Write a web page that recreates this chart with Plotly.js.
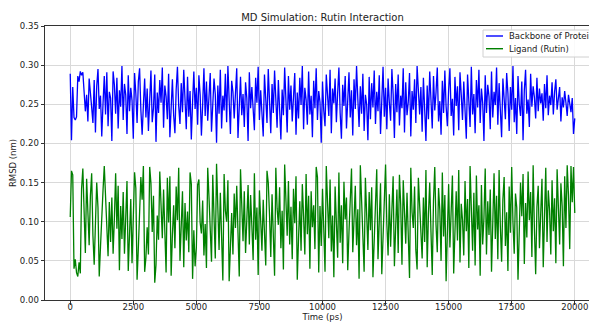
<!DOCTYPE html>
<html>
<head>
<meta charset="utf-8">
<script src="https://cdn.plot.ly/plotly-3.0.1.min.js"></script>
<style>
html,body{margin:0;padding:0;overflow:hidden;background:#fff;}
#chart{width:600px;height:325px;}
</style>
</head>
<body>
<div id="chart"></div>
<script>
// Time axis: 0..20000 ps, one sample every 50 ps
const timeStart = 0;
const timeStep = 50;

const backboneRmsd = [
.289,.204,.272,.233,.230,.234,.286,.279,.292,.287,.291,.268,.241,.262,.228,.283,.257,.246,.226,.281,
.214,.273,.295,.244,.261,.209,.251,.286,.237,.291,.222,.266,.258,.203,.292,.275,.238,.284,.219,.268,
.247,.299,.230,.276,.262,.212,.287,.241,.271,.255,.206,.290,.264,.226,.279,.296,.243,.211,.249,.283,
.233,.270,.216,.258,.293,.227,.245,.288,.202,.265,.239,.281,.252,.297,.220,.274,.260,.231,.289,.208,
.256,.282,.236,.213,.269,.298,.248,.225,.277,.240,.294,.259,.218,.285,.234,.267,.205,.253,.292,.244,
.271,.224,.287,.262,.210,.250,.296,.235,.279,.229,.257,.290,.215,.246,.283,.263,.201,.274,.238,.294,
.219,.261,.242,.289,.227,.299,.254,.212,.280,.266,.232,.273,.296,.207,.249,.285,.236,.263,.221,.278,
.258,.203,.291,.245,.272,.234,.217,.284,.252,.298,.230,.268,.241,.209,.288,.260,.226,.295,.250,.213,
.276,.239,.293,.262,.220,.281,.247,.205,.269,.236,.297,.255,.214,.286,.243,.274,.228,.259,.290,.211,
.265,.232,.284,.249,.299,.218,.271,.256,.224,.292,.237,.261,.208,.280,.245,.296,.230,.267,.253,.201,
.279,.242,.222,.288,.260,.235,.294,.213,.270,.251,.283,.227,.264,.297,.239,.206,.275,.248,.286,.219,
.255,.291,.233,.268,.210,.282,.244,.299,.257,.221,.273,.238,.289,.216,.262,.250,.204,.285,.231,.277,
.246,.293,.225,.266,.241,.287,.212,.259,.298,.234,.271,.218,.283,.252,.229,.295,.263,.207,.276,.240,
.288,.223,.261,.245,.296,.214,.278,.236,.253,.290,.209,.267,.243,.282,.226,.299,.258,.237,.272,.215,
.284,.250,.203,.274,.231,.292,.260,.219,.286,.242,.265,.297,.228,.254,.211,.280,.239,.293,.247,.222,
.269,.296,.235,.257,.210,.285,.248,.273,.217,.291,.262,.230,.279,.244,.206,.288,.255,.221,.298,.237,
.263,.213,.281,.246,.294,.226,.270,.252,.203,.287,.239,.275,.260,.218,.292,.233,.266,.249,.297,.224,
.277,.240,.208,.283,.256,.231,.290,.264,.216,.272,.243,.299,.227,.258,.212,.286,.250,.235,.279,.204,
.268,.294,.238,.256,.221,.289,.247,.273,.259,.232,.284,.241,.270,.251,.264,.229,.276,.245,.287,.236,
.261,.249,.278,.237,.266,.282,.243,.255,.272,.228,.259,.246,.267,.252,.235,.262,.248,.240,.258,.212,
.232
];

const ligandRmsd = [
.106,.165,.160,.040,.052,.035,.030,.048,.034,.142,.168,.095,.060,.155,.120,.070,.133,.162,.082,.045,
.098,.150,.118,.030,.068,.112,.140,.171,.126,.088,.056,.125,.074,.131,.059,.104,.162,.091,.146,.038,
.120,.078,.138,.059,.101,.152,.037,.084,.129,.047,.115,.163,.143,.026,.066,.110,.157,.128,.171,.036,
.054,.093,.058,.170,.149,.087,.133,.022,.045,.108,.077,.164,.116,.079,.141,.073,.035,.156,.099,.158,
.031,.083,.121,.066,.145,.102,.169,.050,.094,.139,.042,.124,.076,.113,.061,.163,.148,.027,.089,.043,
.067,.147,.154,.099,.085,.127,.057,.097,.041,.169,.132,.090,.049,.160,.106,.053,.174,.119,.064,.137,
.081,.025,.161,.114,.100,.153,.024,.070,.111,.058,.136,.092,.146,.086,.030,.167,.122,.075,.139,.060,
.103,.147,.071,.134,.095,.051,.162,.077,.118,.032,.140,.105,.063,.128,.080,.044,.165,.150,.109,.055,
.135,.088,.031,.169,.117,.096,.144,.066,.114,.039,.173,.128,.082,.152,.071,.119,.052,.142,.098,.158,
.026,.078,.126,.063,.148,.107,.058,.161,.084,.133,.040,.139,.093,.121,.065,.170,.157,.035,.120,.069,
.142,.091,.036,.171,.125,.079,.154,.062,.108,.029,.145,.099,.054,.163,.073,.121,.047,.151,.103,.131,
.038,.087,.134,.168,.061,.094,.146,.070,.116,.027,.172,.127,.083,.036,.156,.110,.064,.138,.089,.144,
.029,.076,.124,.167,.052,.101,.149,.033,.081,.130,.173,.098,.057,.135,.068,.115,.158,.043,.097,.141,
.060,.160,.122,.045,.153,.104,.072,.137,.085,.028,.169,.112,.092,.145,.064,.039,.156,.118,.100,.053,
.131,.074,.166,.042,.110,.150,.087,.032,.127,.170,.096,.061,.143,.115,.050,.163,.081,.134,.024,.106,
.148,.067,.117,.159,.034,.093,.139,.076,.166,.048,.123,.102,.057,.152,.088,.129,.041,.171,.109,.063,
.137,.044,.159,.090,.121,.031,.147,.071,.105,.168,.058,.126,.083,.141,.036,.113,.162,.078,.133,.052,
.166,.094,.049,.128,.157,.069,.112,.037,.145,.086,.170,.099,.059,.136,.118,.026,.084,.150,.107,.161,
.046,.124,.080,.164,.102,.138,.055,.172,.091,.033,.119,.146,.066,.127,.155,.042,.097,.169,.074,.140,
.115,.058,.153,.088,.130,.047,.167,.103,.071,.149,.120,.043,.158,.092,.172,.134,.065,.171,.125,.170,
.111
];

const seriesNames = ["Backbone of Protein", "Ligand (Rutin)"];
const seriesColors = ["#0000ff", "#008000"];

const timePs = backboneRmsd.map((_, i) => timeStart + i * timeStep);

const font = "DejaVu Sans, Liberation Sans, sans-serif";

// plot-area geometry (pixels) used to place the legend box
const plotL = 45, plotW = 555, plotT = 26, plotH = 274;
const px = v => (v - plotL) / plotW;
const py = v => (plotT + plotH - v) / plotH;

const traces = [
  {x: timePs, y: backboneRmsd, name: seriesNames[0], type: "scatter", mode: "lines",
   line: {color: seriesColors[0], width: 1.3}},
  {x: timePs, y: ligandRmsd, name: seriesNames[1], type: "scatter", mode: "lines",
   line: {color: seriesColors[1], width: 1.3}}
];

const legendRows = [36, 48.7];

const shapes = [
  {type: "rect", xref: "paper", yref: "paper", x0: px(483), x1: px(640), y0: py(57), y1: py(30),
   line: {color: "#d0d0d0", width: 1}, fillcolor: "rgba(255,255,255,0.85)", layer: "above"}
];
const annotations = [];
seriesNames.forEach((name, i) => {
  shapes.push({type: "line", xref: "paper", yref: "paper", x0: px(486), x1: px(503),
               y0: py(legendRows[i]), y1: py(legendRows[i]),
               line: {color: seriesColors[i], width: 1.4}, layer: "above"});
  annotations.push({xref: "paper", yref: "paper", x: px(507), y: py(legendRows[i]),
                    xanchor: "left", yanchor: "middle", text: name, showarrow: false,
                    font: {family: font, size: 8.5, color: "#222"}});
});

const layout = {
  width: 600, height: 325,
  margin: {l: plotL, r: 0, t: plotT, b: 25, autoexpand: false},
  paper_bgcolor: "#ffffff", plot_bgcolor: "#ffffff",
  font: {family: font, size: 9, color: "#222"},
  title: {text: "MD Simulation: Rutin Interaction", font: {family: font, size: 10, color: "#222"},
          x: 0.5, xref: "paper", y: 1 - 17/325, yref: "container", yanchor: "middle"},
  xaxis: {
    range: [-1000, 21000], dtick: 2500, tick0: 0, tickformat: "d",
    showgrid: true, gridcolor: "#d9d9d9", gridwidth: 1, zeroline: false,
    showline: true, linecolor: "#333", linewidth: 1, mirror: true,
    ticks: "outside", ticklen: 3.5, tickcolor: "#333", tickfont: {size: 8.5, color: "#222"},
    ticklabelstandoff: -5,
    title: {text: "Time (ps)", font: {size: 8.5, color: "#222"}, standoff: 0},
    automargin: false
  },
  yaxis: {
    range: [0, 0.35], dtick: 0.05, tick0: 0, tickformat: ".2f",
    showgrid: true, gridcolor: "#d9d9d9", gridwidth: 1, zeroline: false,
    showline: true, linecolor: "#333", linewidth: 1, mirror: true,
    ticks: "outside", ticklen: 3.5, tickcolor: "#333", tickfont: {size: 8.5, color: "#222"},
    title: {text: "RMSD (nm)", font: {size: 8.5, color: "#222"}, standoff: 1},
    automargin: false
  },
  shapes: shapes,
  annotations: annotations,
  showlegend: false
};

Plotly.newPlot("chart", traces, layout, {displayModeBar: false, staticPlot: true});
</script>
</body>
</html>
